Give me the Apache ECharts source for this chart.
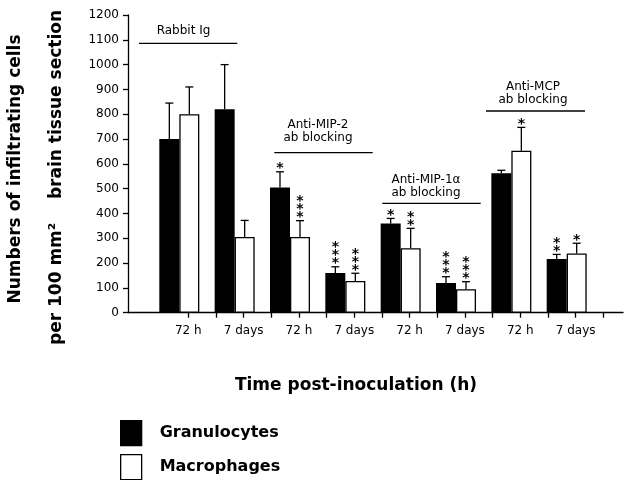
<!DOCTYPE html>
<html>
<head>
<meta charset="utf-8">
<script src="https://cdn.jsdelivr.net/npm/echarts@6/dist/echarts.min.js"></script>
<style>html,body{margin:0;padding:0;background:#fff;}#c{width:630px;height:480px;}</style>
</head>
<body>
<div id="c"></div>
<script>
// ---- data ----
const groups = ['Rabbit Ig', 'Rabbit Ig', 'Anti-MIP-2', 'Anti-MIP-2', 'Anti-MIP-1α', 'Anti-MIP-1α', 'Anti-MCP', 'Anti-MCP'];
const timeLabels = ['72 h', '7 days', '72 h', '7 days', '72 h', '7 days', '72 h', '7 days'];
const granulocytes = [700, 820, 505, 160, 360, 120, 562, 216];
const granulocytesErr = [145, 180, 63, 25, 20, 25, 12, 19];
const granulocytesSig = ['', '', '*', '***', '*', '***', '', '**'];
const macrophages = [800, 305, 305, 128, 260, 95, 653, 239];
const macrophagesErr = [110, 67, 66, 31, 80, 30, 94, 41];
const macrophagesSig = ['', '', '***', '***', '**', '***', '*', '*'];
const yTicks = {min: 0, max: 1200, interval: 100};

const FONT = 'DejaVu Sans';
const LW = 1.3;
const BAR_W = 20;

const barCats = groups.map((g, i) => g + ' ' + timeLabels[i] + ' #' + i);
const tickCats = [];
timeLabels.forEach(t => { tickCats.push(t); tickCats.push(''); });

const gTop = 15, gBottom = 167.3;

function errSeries(name, vals, errs, sigs, offset) {
  return {
    type: 'custom', name: name + ' err', xAxisIndex: 1, yAxisIndex: 1, z: 5,
    data: vals.map((v, i) => [i, v, errs[i]]),
    renderItem: function (params, api) {
      const i = api.value(0), v = api.value(1), e = api.value(2);
      const base = api.coord([i, v]);
      const top = api.coord([i, v + e]);
      const cx = base[0] + offset;
      const children = [
        {type: 'line', shape: {x1: cx, y1: base[1], x2: cx, y2: top[1]}, style: {stroke: '#000', lineWidth: LW}},
        {type: 'line', shape: {x1: cx - 4, y1: top[1], x2: cx + 4, y2: top[1]}, style: {stroke: '#000', lineWidth: LW}}
      ];
      const s = sigs[params.dataIndex];
      if (s) {
        children.push({type: 'text', x: cx, y: top[1] + 1,
          style: {text: s.split('').join('\n'), font: 'bold 14px ' + FONT, lineHeight: 8,
            align: 'center', verticalAlign: 'bottom', textAlign: 'center', textVerticalAlign: 'bottom', fill: '#000'}});
      }
      return {type: 'group', children: children};
    }
  };
}

function txt(text, x, y, size, weight, rot) {
  return {type: 'text', x: x, y: y, rotation: rot || 0,
    style: {text: text, font: (weight || 'normal') + ' ' + size + 'px ' + FONT, fill: '#000',
      align: 'center', verticalAlign: 'middle', textAlign: 'center', textVerticalAlign: 'middle', lineHeight: 13}};
}
function ln(x1, y1, x2, y2) {
  return {type: 'line', shape: {x1, y1, x2, y2}, style: {stroke: '#000', lineWidth: LW}};
}
function legendFor(item, top) {
  return {
    orient: 'vertical', left: 120, top: top, padding: 0,
    itemWidth: 21, itemHeight: 25, icon: 'rect',
    textStyle: {fontFamily: FONT, fontSize: 16, fontWeight: 'bold', color: '#000', padding: [0, 0, 0, 13]},
    data: [item]
  };
}

const chart = echarts.init(document.getElementById('c'));
chart.setOption({
  backgroundColor: '#fff',
  animation: false,
  grid: [
    {left: 128, right: 7, top: gTop, bottom: gBottom},
    {left: 151.65, width: 442.7, top: gTop, bottom: gBottom},
    {left: 188.3, width: 415, top: gTop, bottom: gBottom}
  ],
  xAxis: [
    {gridIndex: 0, type: 'value', min: 0, max: 1,
      axisLine: {show: true, onZero: false, lineStyle: {color: '#000', width: LW}},
      axisTick: {show: false}, axisLabel: {show: false}, splitLine: {show: false}},
    {gridIndex: 1, type: 'category', data: barCats, show: false},
    {gridIndex: 2, type: 'category', data: tickCats, boundaryGap: false,
      axisLine: {show: false},
      axisTick: {show: true, interval: 0, length: 5, lineStyle: {color: '#000', width: LW}},
      axisLabel: {interval: 0, margin: 12, color: '#000', fontSize: 12, fontFamily: FONT},
      splitLine: {show: false}}
  ],
  yAxis: [
    {gridIndex: 0, type: 'value', min: yTicks.min, max: yTicks.max, interval: yTicks.interval,
      axisLine: {show: true, onZero: false, lineStyle: {color: '#000', width: LW}},
      axisTick: {show: true, length: 5, lineStyle: {color: '#000', width: LW}},
      axisLabel: {margin: 9, color: '#000', fontSize: 12, fontFamily: FONT, formatter: v => String(v)},
      splitLine: {show: false}},
    {gridIndex: 1, type: 'value', min: yTicks.min, max: yTicks.max, show: false},
    {gridIndex: 2, type: 'value', min: yTicks.min, max: yTicks.max, show: false}
  ],
  legend: [
    legendFor({name: 'Granulocytes', itemStyle: {color: '#000', borderColor: '#000', borderWidth: LW}}, 420),
    legendFor({name: 'Macrophages', itemStyle: {color: '#fff', borderColor: '#000', borderWidth: LW}}, 454)
  ],
  series: [
    {type: 'bar', name: 'Granulocytes', xAxisIndex: 1, yAxisIndex: 1, data: granulocytes,
      barWidth: BAR_W, barGap: '0%', itemStyle: {color: '#000', borderColor: '#000', borderWidth: LW}},
    {type: 'bar', name: 'Macrophages', xAxisIndex: 1, yAxisIndex: 1, data: macrophages,
      barWidth: BAR_W, barGap: '0%', itemStyle: {color: '#fff', borderColor: '#000', borderWidth: LW}},
    errSeries('Granulocytes', granulocytes, granulocytesErr, granulocytesSig, -BAR_W / 2),
    errSeries('Macrophages', macrophages, macrophagesErr, macrophagesSig, BAR_W / 2)
  ],
  graphic: [
    txt('Numbers of infiltrating cells', 15.5, 169, 17, 'bold', Math.PI / 2),
    txt('per 100 mm²    brain tissue section', 57, 177.5, 17, 'bold', Math.PI / 2),
    txt('Time post-inoculation (h)', 356, 386, 17, 'bold'),
    txt('Rabbit Ig', 183.5, 31, 12),
    ln(139, 43.3, 237.3, 43.3),
    txt('Anti-MIP-2\nab blocking', 318, 131.5, 12),
    ln(274.3, 152.7, 372.7, 152.7),
    txt('Anti-MIP-1α\nab blocking', 426, 186.5, 12),
    ln(382.3, 203.3, 480.7, 203.3),
    txt('Anti-MCP\nab blocking', 533, 93.5, 12),
    ln(486, 111, 585, 111)
  ]
});
</script>
</body>
</html>
